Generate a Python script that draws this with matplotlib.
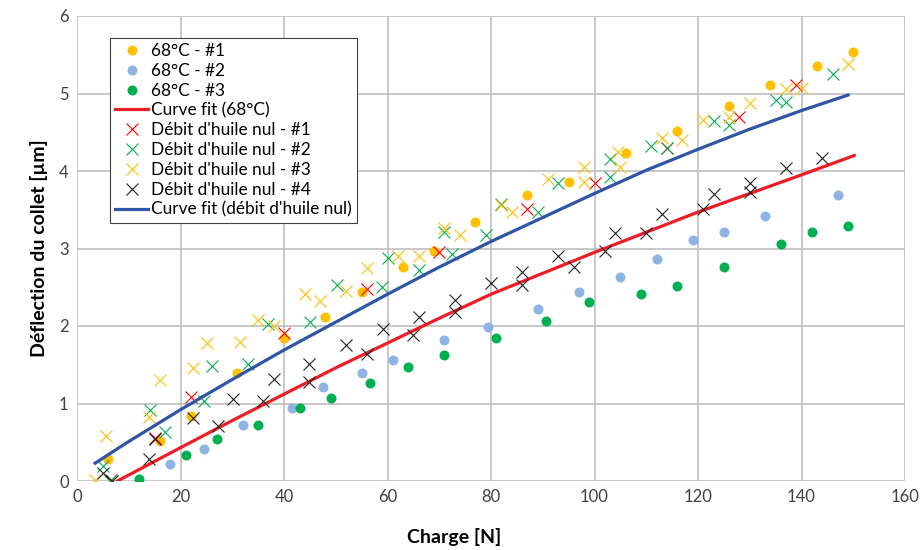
import matplotlib
matplotlib.use("Agg")
import matplotlib.pyplot as plt

plt.rcParams['font.family'] = ['Lato', 'DejaVu Sans']

# ---- data ----
t68_1_x = [6, 16, 22, 31, 40, 48, 55, 63, 69, 77, 87, 95, 106, 116, 126, 134, 143, 150]
t68_1_y = [0.28, 0.52, 0.84, 1.39, 1.85, 2.12, 2.44, 2.76, 2.97, 3.34, 3.69, 3.86, 4.23, 4.52, 4.84, 5.11, 5.36, 5.54]

t68_2_x = [18, 24.5, 32, 41.5, 47.5, 55, 61, 71, 79.4, 89, 97, 105, 112, 119, 125, 133, 147]
t68_2_y = [0.22, 0.41, 0.72, 0.94, 1.21, 1.39, 1.56, 1.82, 1.99, 2.22, 2.44, 2.63, 2.86, 3.11, 3.21, 3.42, 3.69]

t68_3_x = [12, 21, 27, 35, 43, 49, 56.6, 64, 71, 81, 90.6, 99, 109, 116, 125, 136, 142, 149]
t68_3_y = [0.02, 0.34, 0.54, 0.72, 0.94, 1.07, 1.26, 1.47, 1.62, 1.85, 2.06, 2.31, 2.41, 2.52, 2.76, 3.06, 3.21, 3.29]

fit68_x = [7.8, 20, 30, 40, 50, 60, 70, 80, 90, 100, 110, 120, 130, 140, 150.2]
fit68_y = [0.0, 0.43, 0.78, 1.12, 1.46, 1.78, 2.10, 2.41, 2.68, 2.95, 3.21, 3.47, 3.71, 3.95, 4.20]

dh1_x = [6.6, 15, 22, 40, 56, 70, 87, 100, 114, 128, 139]
dh1_y = [0.01, 0.56, 1.08, 1.91, 2.48, 2.96, 3.51, 3.84, 4.30, 4.70, 5.11]

dh2_x = [5, 6.4, 14.1, 17, 24.5, 26, 33, 37, 45, 50.2, 59, 60, 66, 71, 72.5, 79, 82, 89, 93, 103, 103, 111, 114, 123, 126, 135, 137, 146]
dh2_y = [0.20, 0.00, 0.91, 0.63, 1.03, 1.48, 1.51, 2.03, 2.05, 2.53, 2.50, 2.88, 2.72, 3.21, 2.93, 3.17, 3.57, 3.47, 3.85, 3.92, 4.15, 4.32, 4.30, 4.65, 4.59, 4.92, 4.89, 5.25]

dh3_x = [3.5, 5.6, 14, 16, 22.4, 25.1, 31.5, 35, 38, 44, 47, 52, 56, 62, 66, 71, 74, 82, 84, 91, 98, 98, 104.5, 105, 113, 117, 121, 126, 130, 137, 140, 149]
dh3_y = [0.01, 0.58, 0.83, 1.30, 1.46, 1.78, 1.80, 2.08, 2.00, 2.41, 2.32, 2.45, 2.75, 2.90, 2.90, 3.26, 3.17, 3.56, 3.47, 3.90, 3.86, 4.05, 4.24, 4.05, 4.43, 4.40, 4.66, 4.70, 4.88, 5.06, 5.07, 5.38]

dh4_x = [5, 6.8, 14, 15, 22.4, 27.2, 30.2, 36, 38, 44.8, 44.8, 52, 56, 59.1, 65, 66, 73, 73, 80, 86, 86, 93, 96, 102, 104, 110, 113, 121, 123, 130, 130, 137, 144]
dh4_y = [0.10, 0.00, 0.28, 0.54, 0.81, 0.71, 1.06, 1.03, 1.31, 1.28, 1.51, 1.75, 1.64, 1.96, 1.88, 2.11, 2.18, 2.33, 2.55, 2.53, 2.70, 2.90, 2.76, 2.97, 3.20, 3.20, 3.44, 3.51, 3.70, 3.73, 3.85, 4.04, 4.17]

fitdh_x = [3.5, 10, 20, 30, 40, 50, 60, 70, 80, 90, 100, 110, 120, 130, 140, 149]
fitdh_y = [0.23, 0.51, 0.92, 1.31, 1.69, 2.05, 2.41, 2.76, 3.09, 3.40, 3.71, 4.01, 4.28, 4.54, 4.78, 4.98]

labels = ["68°C - #1", "68°C - #2", "68°C - #3", "Curve fit (68°C)",
          "Débit d'huile nul - #1", "Débit d'huile nul - #2",
          "Débit d'huile nul - #3", "Débit d'huile nul - #4",
          "Curve fit (débit d'huile nul)"]

c_orange = '#FFC000'
c_lblue = '#8EB4E3'
c_green = '#00B050'
c_red = '#FF0000'
c_redline = '#EE1C25'
c_blue = '#2E55A6'

fig = plt.figure(figsize=(9.22, 5.5), dpi=100)
ax = fig.add_axes([77/922, 1-481/550, 828/922, 465/550])

ms_c = 7.2
ms_x = 8.0
mew_x = 0.8

h = []
h.append(ax.plot(t68_1_x, t68_1_y, 'o', ms=ms_c, color=c_orange, mec='none', label=labels[0], zorder=3)[0])
h.append(ax.plot(t68_2_x, t68_2_y, 'o', ms=ms_c, color=c_lblue, mec='none', label=labels[1], zorder=3)[0])
h.append(ax.plot(t68_3_x, t68_3_y, 'o', ms=ms_c, color=c_green, mec='none', label=labels[2], zorder=3)[0])
h.append(ax.plot(fit68_x, fit68_y, '-', lw=2.3, color=c_redline, label=labels[3], zorder=4,
                 solid_joinstyle='round')[0])
h.append(ax.plot(dh1_x, dh1_y, 'x', ms=ms_x, mew=mew_x, color=c_red, label=labels[4], zorder=5)[0])
h.append(ax.plot(dh2_x, dh2_y, 'x', ms=ms_x, mew=mew_x, color=c_green, label=labels[5], zorder=5)[0])
h.append(ax.plot(dh3_x, dh3_y, 'x', ms=ms_x, mew=mew_x, color=c_orange, label=labels[6], zorder=5)[0])
h.append(ax.plot(dh4_x, dh4_y, 'x', ms=ms_x, mew=mew_x, color='#222222', label=labels[7], zorder=5)[0])
h.append(ax.plot(fitdh_x, fitdh_y, '-', lw=2.3, color=c_blue, label=labels[8], zorder=6,
                 solid_joinstyle='round')[0])

ax.set_xlim(0, 160)
ax.set_ylim(0, 6)
ax.set_xticks(range(0, 161, 20))
ax.set_yticks(range(0, 7))
ax.grid(True, color='#BFBFBF', lw=1.2)
ax.set_axisbelow(True)
for s in ax.spines.values():
    s.set_visible(False)
ax.tick_params(length=0, labelsize=12, colors='#404040', pad=6)

ax.set_xlabel('Charge [N]', fontsize=14, fontweight='bold')
ax.xaxis.set_label_coords(0.455, -0.1)
ax.set_ylabel('Déflection du collet [µm]', fontsize=14, fontweight='bold', labelpad=8)

leg = ax.legend(handles=h, loc='upper left', bbox_to_anchor=(0.04, 0.953),
                borderaxespad=0, fontsize=12.4, frameon=True, fancybox=False,
                edgecolor='#404040', framealpha=1, labelspacing=0.22,
                handlelength=1.9, handletextpad=0.15, borderpad=0.3)
leg.get_frame().set_linewidth(0.8)

fig.savefig('out.png', dpi=100)
